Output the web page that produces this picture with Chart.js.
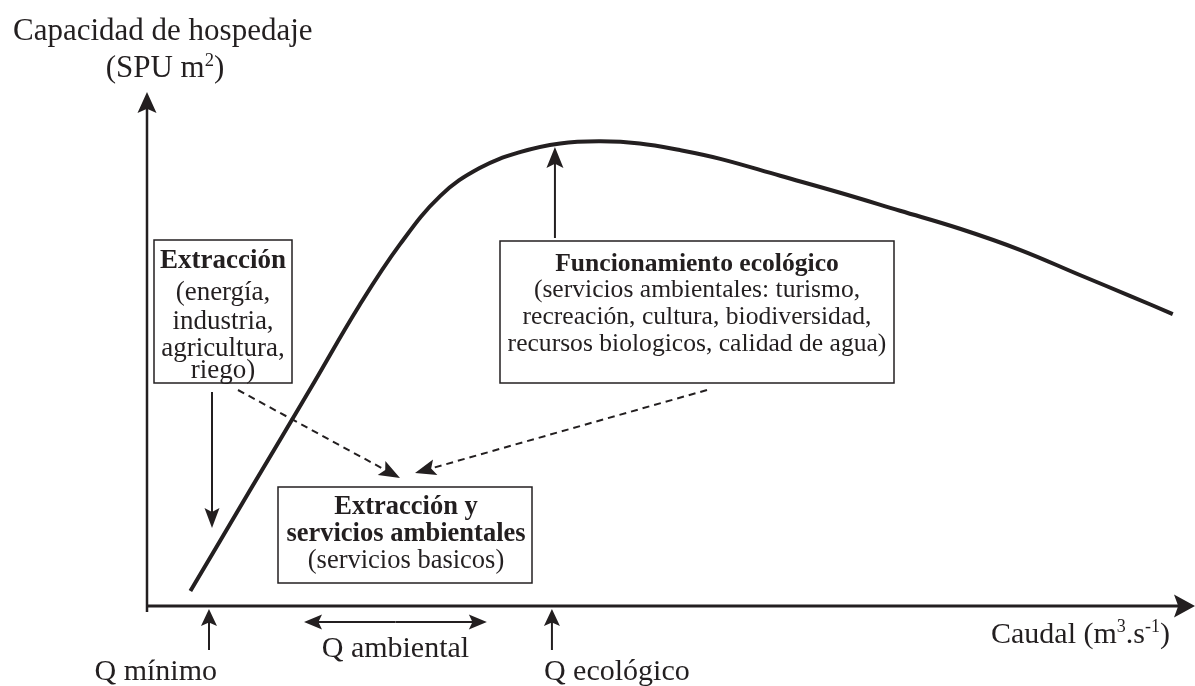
<!DOCTYPE html>
<html>
<head>
<meta charset="utf-8">
<script src="https://cdn.jsdelivr.net/npm/chart.js@4.4.1/dist/chart.umd.min.js"></script>
<style>
  html, body { margin: 0; background: #fff; }
  #wrap { width: 1195px; height: 686px; }
</style>
</head>
<body>
<div id="wrap"><canvas id="chart"></canvas></div>
<script>
// curva conceptual: capacidad de hospedaje vs caudal (unidades relativas 0-100)
const caudal = [4.2, 10.0, 15.8, 20.6, 24.5, 28.4, 32.2, 36.1, 40.0, 43.9, 47.7, 51.6, 55.5, 61.3, 67.1, 72.9, 78.7, 84.5, 90.3, 95.2, 99.3];
const capacidad = [2.9, 22.6, 42.2, 58.6, 70.4, 79.8, 85.2, 88.3, 90.0, 90.4, 90.0, 88.7, 87.0, 83.7, 80.4, 76.9, 73.4, 69.3, 64.4, 60.3, 56.8];

// marcas sobre el eje de caudal
const qLabels = ['Q mínimo', 'Q ambiental', 'Q ecológico'];
const qStart = [6.0, 15.2, 39.2];
const qEnd = [6.0, 32.9, 39.2];

// titulos de ejes (^n = superindice)
const yTitle = ['Capacidad de hospedaje', '(SPU m^2)'];
const xTitle = 'Caudal (m^3.s^-1)';

// textos de los recuadros (** = negrita)
const extraccionLines = ['**Extracción', '(energía,', 'industria,', 'agricultura,', 'riego)'];
const funcionLines = ['**Funcionamiento ecológico', '(servicios ambientales: turismo,', 'recreación, cultura, biodiversidad,', 'recursos biologicos, calidad de agua)'];
const mixtoLines = ['**Extracción y', '**servicios ambientales', '(servicios basicos)'];

const ink = '#231f20';
const serif = '"Liberation Serif", "Times New Roman", serif';

function richText(ctx, str, x, y, size, align) {
    let bold = false;
    if (str.startsWith('**')) { bold = true; str = str.slice(2); }
    const parts = str.split(/\^([-0-9]+)/);
    const setFont = s => { ctx.font = (bold ? 'bold ' : '') + s + 'px ' + serif; };
    let total = 0;
    parts.forEach((p, i) => { setFont(i % 2 ? size * 0.6 : size); total += ctx.measureText(p).width; });
    let cx = align === 'center' ? x - total / 2 : align === 'right' ? x - total : x;
    ctx.textAlign = 'left';
    ctx.textBaseline = 'alphabetic';
    ctx.fillStyle = ink;
    parts.forEach((p, i) => {
        const s = i % 2 ? size * 0.6 : size;
        setFont(s);
        ctx.fillText(p, cx, i % 2 ? y - size * 0.36 : y);
        cx += ctx.measureText(p).width;
    });
}

function arrow(ctx, x1, y1, x2, y2, o) {
    o = o || {};
    const len = o.head || 15, hw = (o.width || 14) / 2;
    const a = Math.atan2(y2 - y1, x2 - x1);
    const c = Math.cos(a), s = Math.sin(a);
    const bx = x2 - len * c, by = y2 - len * s;
    ctx.save();
    ctx.strokeStyle = ink;
    ctx.fillStyle = ink;
    ctx.lineWidth = o.lw || 2;
    if (o.dash) ctx.setLineDash(o.dash);
    ctx.beginPath();
    ctx.moveTo(x1, y1);
    ctx.lineTo(x2 - len * 0.7 * c, y2 - len * 0.7 * s);
    ctx.stroke();
    ctx.setLineDash([]);
    ctx.beginPath();
    ctx.moveTo(x2, y2);
    ctx.lineTo(bx + hw * s, by - hw * c);
    ctx.lineTo(x2 - len * 0.8 * c, y2 - len * 0.8 * s);
    ctx.lineTo(bx - hw * s, by + hw * c);
    ctx.closePath();
    ctx.fill();
    ctx.restore();
}

function textBox(ctx, x1, y1, x2, y2, lines, cx, baselines, size) {
    ctx.save();
    ctx.fillStyle = '#fff';
    ctx.fillRect(x1, y1, x2 - x1, y2 - y1);
    ctx.strokeStyle = ink;
    ctx.lineWidth = 1.5;
    ctx.strokeRect(x1, y1, x2 - x1, y2 - y1);
    lines.forEach((l, i) => richText(ctx, l, cx, baselines[i], size, 'center'));
    ctx.restore();
}

const diagramPlugin = {
    id: 'diagram',
    beforeDatasetsDraw(chart) {
        const { ctx, chartArea: ca } = chart;
        ctx.save();
        // eje Y
        arrow(ctx, ca.left, ca.bottom + 6, ca.left, ca.top, { lw: 2.5, head: 21, width: 19 });
        // eje X
        arrow(ctx, ca.left - 1, ca.bottom, chart.width, ca.bottom, { lw: 3, head: 21, width: 23 });
        ctx.restore();
    },
    afterDatasetsDraw(chart) {
        const { ctx, chartArea: ca, scales } = chart;
        const X = v => scales.x.getPixelForValue(v);
        ctx.save();

        // titulos
        richText(ctx, yTitle[0], 13, 40, 31, 'left');
        richText(ctx, yTitle[1], 165, 77, 31, 'center');
        richText(ctx, xTitle, 1170, 643, 30, 'right');

        // marcas de caudal
        const yb = ca.bottom;
        arrow(ctx, X(qStart[0]), yb + 44, X(qStart[0]), yb + 3, { head: 17, width: 16 });
        richText(ctx, qLabels[0], X(qStart[0]) + 8, 680, 30, 'right');

        arrow(ctx, (X(qStart[1]) + X(qEnd[1])) / 2, yb + 16, X(qStart[1]), yb + 16, { head: 18, width: 15 });
        arrow(ctx, (X(qStart[1]) + X(qEnd[1])) / 2, yb + 16, X(qEnd[1]), yb + 16, { head: 18, width: 15 });
        richText(ctx, qLabels[1], (X(qStart[1]) + X(qEnd[1])) / 2, 657, 30, 'center');

        arrow(ctx, X(qStart[2]), yb + 44, X(qStart[2]), yb + 3, { head: 17, width: 16 });
        richText(ctx, qLabels[2], X(qStart[2]) - 8, 680, 30, 'left');

        // recuadros
        textBox(ctx, 154, 240, 292, 383, extraccionLines, 223, [268, 300, 329, 356, 378], 27);
        textBox(ctx, 500, 241, 894, 383, funcionLines, 697, [271, 297, 324, 351], 25.6);
        textBox(ctx, 278, 487, 532, 583, mixtoLines, 406, [514, 541, 568], 26.5);

        // flechas
        arrow(ctx, 212, 392, 212, 528, { head: 20, width: 15 });
        arrow(ctx, X(qStart[2]) + 3, 238, X(qStart[2]) + 3, 147, { head: 21, width: 17 });
        arrow(ctx, 238, 390, 400, 478, { dash: [7, 5], head: 21, width: 16 });
        arrow(ctx, 707, 390, 415, 473, { dash: [7, 5], head: 21, width: 16 });

        ctx.restore();
    }
};

new Chart(document.getElementById('chart'), {
    type: 'line',
    data: {
        datasets: [{
            data: caudal.map((x, i) => ({ x: x, y: capacidad[i] })),
            borderColor: ink,
            borderWidth: 4,
            pointRadius: 0,
            fill: false,
            tension: 0.4
        }]
    },
    options: {
        responsive: true,
        maintainAspectRatio: false,
        animation: false,
        layout: { padding: { left: 147, right: 15, top: 92, bottom: 80 } },
        plugins: { legend: { display: false }, tooltip: { enabled: false } },
        scales: {
            x: { type: 'linear', min: 0, max: 100, display: false },
            y: { type: 'linear', min: 0, max: 100, display: false }
        }
    },
    plugins: [diagramPlugin]
});
</script>
</body>
</html>
